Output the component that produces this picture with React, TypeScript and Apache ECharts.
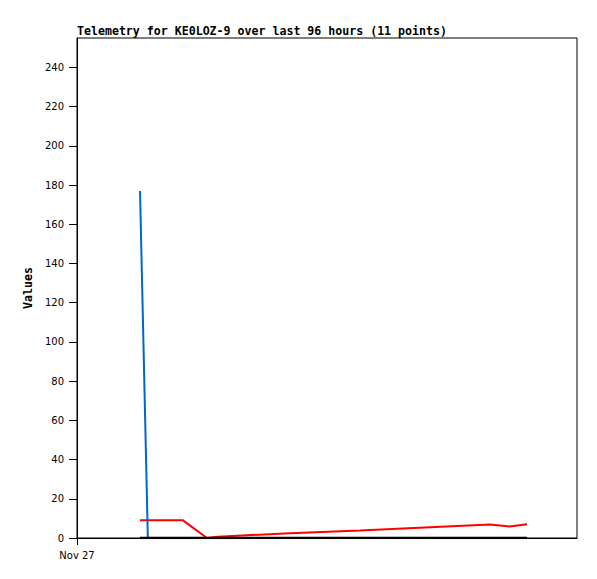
import React, { useEffect, useRef } from "react";
import * as echarts from "echarts";

// hours since Nov 27 00:00
const hours = [12.1, 13.6, 20.35, 24.96, 27.07, 40.9, 54.3, 67.8, 79.3, 83.1, 86.4];
const blueValues = [177, 0, 0, 0, 0, 0, 0, 0, 0, 0, 0];
const redValues = [9, 9, 9, 0, 0.7, 2.4, 3.8, 5.5, 6.9, 5.9, 7];
const blackValues = [0, 0, 0, 0, 0, 0, 0, 0, 0, 0, 0];
const yTicks = [0, 20, 40, 60, 80, 100, 120, 140, 160, 180, 200, 220, 240];
const xLabel = "Nov 27";
const title = "Telemetry for KE0LOZ-9 over last 96 hours (11 points)";

const mono = "DejaVu Sans Mono";

export default function App() {
  const ref = useRef<HTMLDivElement>(null);
  useEffect(() => {
    if (!ref.current) return;
    const chart = echarts.init(ref.current, null, { renderer: "svg" });
    const pair = (vals: number[]) => hours.map((h, i) => [h, vals[i]]);
    chart.setOption({
      animation: false,
      backgroundColor: "#fff",
      title: {
        text: title,
        left: 72,
        top: 20,
        textStyle: { fontFamily: mono, fontSize: 11.6, fontWeight: "bold", color: "#000" },
      },
      grid: {
        left: 77,
        top: 38,
        right: 20,
        bottom: 41,
        show: true,
        borderColor: "#000",
        borderWidth: 1,
        backgroundColor: "transparent",
      },
      xAxis: {
        type: "value",
        min: 0,
        max: 96,
        interval: 100,
        axisLine: { lineStyle: { color: "#000", width: 1 } },
        axisTick: { show: true, length: 7, lineStyle: { color: "#000" }, customValues: [0] },
        axisLabel: {
          customValues: [0],
          formatter: () => xLabel,
          color: "#000",
          fontFamily: "DejaVu Sans",
          fontSize: 10,
          margin: 12,
        },
        splitLine: { show: false },
      },
      yAxis: {
        type: "value",
        min: 0,
        max: 255,
        interval: 20,
        name: "Values",
        nameLocation: "middle",
        nameGap: 40,
        nameRotate: 90,
        nameTextStyle: { fontFamily: mono, fontSize: 11.6, fontWeight: "bold", color: "#000" },
        axisLine: { show: true, lineStyle: { color: "#000", width: 1 } },
        axisTick: { show: true, length: 8, lineStyle: { color: "#000" }, customValues: yTicks },
        axisLabel: {
          customValues: yTicks,
          color: "#000",
          fontFamily: "DejaVu Sans",
          fontSize: 10,
          margin: 13,
        },
        splitLine: { show: false },
      },
      series: [
        {
          type: "line",
          data: pair(redValues),
          showSymbol: false,
          lineStyle: { color: "#ff0000", width: 2 },
          z: 2,
        },
        {
          type: "line",
          data: pair(blueValues),
          showSymbol: false,
          lineStyle: { color: "#0066cc", width: 2 },
          z: 3,
        },
        {
          type: "line",
          data: pair(blackValues),
          showSymbol: false,
          lineStyle: { color: "#000", width: 2.5 },
          z: 4,
        },
      ],
    });
    return () => chart.dispose();
  }, []);
  return (
    <div
      ref={ref}
      style={{ position: "fixed", left: 0, top: 0, width: 597, height: 579, background: "#fff" }}
    />
  );
}
